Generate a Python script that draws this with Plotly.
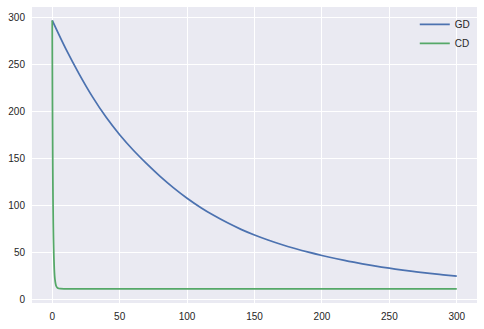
import plotly.graph_objects as go

gd_iter = list(range(0, 301, 10))
gd_cost = [297, 267, 240, 215.5, 194, 175.5, 159.3, 144.8, 131.3, 119.1, 108.1,
           98.3, 89.6, 81.9, 75.0, 69.0, 63.7, 58.9, 54.6, 50.7, 47.2,
           44.0, 41.05, 38.35, 35.9, 33.7, 31.7, 29.85, 28.15, 26.6, 25.2]

cd_iter = [0, 1, 2, 3, 4, 5, 6, 10, 50, 100, 150, 200, 250, 300]
cd_cost = [297, 60, 22, 14.5, 12.6, 12.1, 11.9, 11.8, 11.8, 11.8, 11.8, 11.8, 11.8, 11.8]

x_ticks = [0, 50, 100, 150, 200, 250, 300]
y_ticks = [0, 50, 100, 150, 200, 250, 300]

fig = go.Figure()
fig.add_trace(go.Scatter(x=gd_iter, y=gd_cost, mode="lines", name="GD",
                         line=dict(color="#4C72B0", width=1.75), line_shape="spline"))
fig.add_trace(go.Scatter(x=cd_iter, y=cd_cost, mode="lines", name="CD",
                         line=dict(color="#55A868", width=1.75), line_shape="spline"))

font = dict(family="Liberation Sans, Arial, sans-serif", size=10, color="#262626")
fig.update_layout(
    width=484, height=329,
    margin=dict(l=32, r=7, t=7, b=23),
    paper_bgcolor="white", plot_bgcolor="#EAEAF2",
    font=font,
    showlegend=True,
    legend=dict(x=0.995, y=0.99, xanchor="right", yanchor="top",
                bgcolor="rgba(0,0,0,0)", font=font, itemwidth=30,
                tracegroupgap=0),
)
fig.update_xaxes(range=[-15, 315], tickvals=x_ticks, showgrid=True, gridcolor="white",
                 gridwidth=1, zeroline=False, showline=False,
                 ticks="outside", ticklen=4, tickcolor="rgba(0,0,0,0)")
fig.update_yaxes(range=[-3.3, 311.3], tickvals=y_ticks, showgrid=True, gridcolor="white",
                 gridwidth=1, zeroline=False, showline=False,
                 ticks="outside", ticklen=4, tickcolor="rgba(0,0,0,0)")

fig.write_html("out.html")
